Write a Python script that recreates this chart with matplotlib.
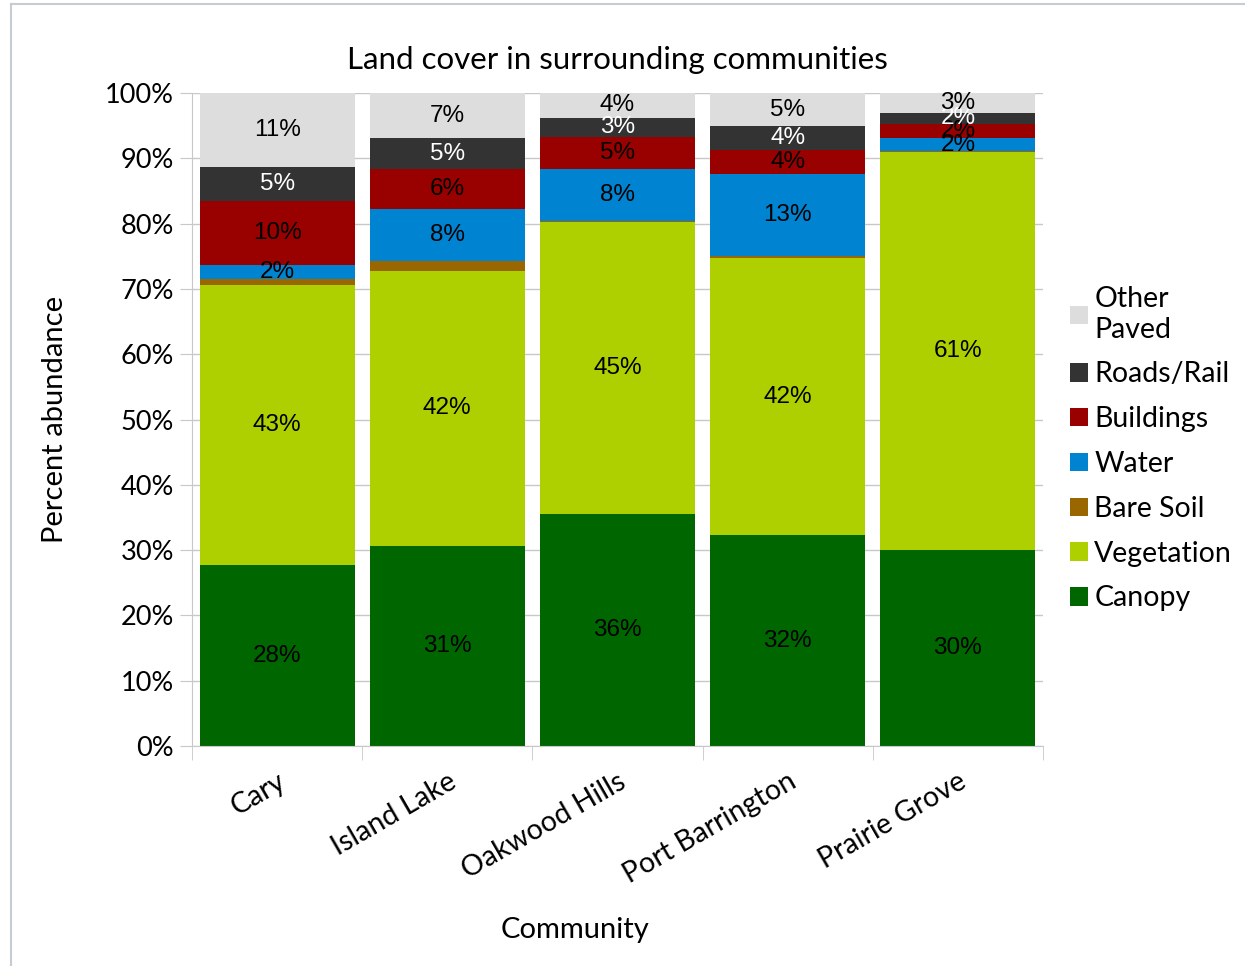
import matplotlib
matplotlib.use('Agg')
import matplotlib.pyplot as plt
from matplotlib.lines import Line2D
from matplotlib.ticker import MultipleLocator, FuncFormatter

# data (percent of land cover)
communities = ['Cary', 'Island Lake', 'Oakwood Hills', 'Port Barrington', 'Prairie Grove']
canopy     = [27.7, 30.6, 35.6, 32.3, 30.0]
vegetation = [42.9, 42.2, 44.7, 42.4, 61.0]
bare_soil  = [0.9, 1.4, 0.1, 0.3, 0.1]
water      = [2.2, 8.1, 7.9, 12.6, 2.0]
buildings  = [9.8, 6.0, 5.0, 3.7, 2.1]
roads_rail = [5.2, 4.8, 2.9, 3.6, 1.8]
other_paved = [11.3, 6.9, 3.8, 5.1, 3.0]

series = [
    ('Canopy', canopy, '#006600', 'black', True),
    ('Vegetation', vegetation, '#aecf00', 'black', True),
    ('Bare Soil', bare_soil, '#996600', 'black', False),
    ('Water', water, '#0084d1', 'black', True),
    ('Buildings', buildings, '#990000', 'black', True),
    ('Roads/Rail', roads_rail, '#333333', 'white', True),
    ('Other\nPaved', other_paved, '#dddddd', 'black', True),
]

plt.rcParams['font.family'] = ['Lato', 'DejaVu Sans']

fig = plt.figure(figsize=(12.45, 9.66), dpi=100)
ax = fig.add_axes([192/1245, 1-746/966, (1043-192)/1245, (746-93)/966])

x = list(range(len(communities)))
bottom = [0.0]*len(communities)
handles = []
for name, vals, col, tcol, show in series:
    bars = ax.bar(x, vals, width=0.91, bottom=bottom, color=col, label=name, zorder=2)
    handles.append(bars)
    if show:
        for i, v in enumerate(vals):
            ax.text(x[i], bottom[i] + v/2, '%d%%' % round(v), ha='center', va='center',
                    color=tcol, fontsize=17.5, family='Liberation Sans', zorder=3)
    bottom = [b + v for b, v in zip(bottom, vals)]

ax.set_xlim(-0.5, 4.5)
ax.set_ylim(0, 100)
ax.yaxis.set_major_locator(MultipleLocator(10))
ax.yaxis.set_major_formatter(FuncFormatter(lambda v, p: '%d%%' % v))
ax.grid(axis='y', color='#c8c8c8', lw=1, zorder=0)
ax.set_axisbelow(True)

for s in ['top', 'right']:
    ax.spines[s].set_visible(False)
for s in ['left', 'bottom']:
    ax.spines[s].set_color('#c8c8c8')

ax.set_xticks(x)
ax.set_xticklabels(communities, rotation=30, ha='right', rotation_mode='anchor', fontsize=20.5)
ax.tick_params(axis='x', length=0, pad=16)
ax.set_xticks([-0.5, 0.5, 1.5, 2.5, 3.5, 4.5], minor=True)
ax.tick_params(axis='x', which='minor', length=10, color='#c8c8c8')
ax.tick_params(axis='y', labelsize=19.5, length=9, color='#c8c8c8', pad=4)

ax.set_title('Land cover in surrounding communities', fontsize=22.5, pad=17)
ax.set_xlabel('Community', fontsize=21)
ax.set_ylabel('Percent abundance', fontsize=21)
ax.xaxis.set_label_coords((575-192)/851, -(930-746)/653)
ax.xaxis.label.set_va('center')
ax.yaxis.set_label_coords(-(192-55)/851, 0.5)
ax.yaxis.label.set_va('center')

leg = fig.legend(handles[::-1], [s[0] for s in series][::-1], loc='upper left',
                 bbox_to_anchor=(1059/1245, 1-275/966), frameon=False, fontsize=20.5,
                 handlelength=0.62, handleheight=0.62, handletextpad=0.22, labelspacing=0.66,
                 borderaxespad=0)

# chart border
fig.add_artist(Line2D([11/1245, 11/1245], [0, 1-4/966], color='#c5ccd4', lw=1.5))
fig.add_artist(Line2D([11/1245, 1], [1-4/966, 1-4/966], color='#c5ccd4', lw=1.5))

fig.savefig('out.png', dpi=100)
